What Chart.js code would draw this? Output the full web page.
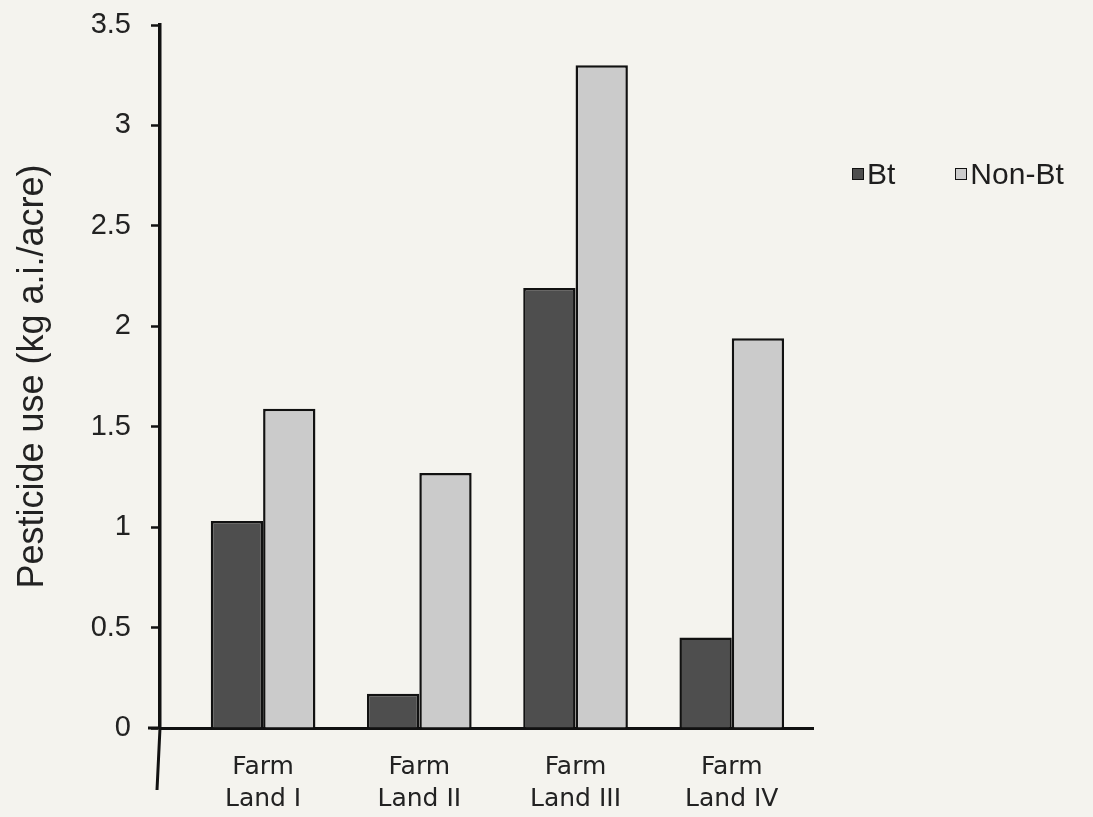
<!DOCTYPE html>
<html>
<head>
<meta charset="utf-8">
<script src="https://cdn.jsdelivr.net/npm/chart.js@4/dist/chart.umd.min.js"></script>
<style>
  html, body { margin: 0; padding: 0; background: #f4f3ee; }
  #wrap { position: relative; width: 1093px; height: 817px; overflow: hidden; }
  #legend { position: absolute; left: 852px; top: 157px; width: 260px; display: flex; white-space: nowrap; font-family: "Liberation Sans", Arial, sans-serif; font-size: 30px; color: #1e1e1e; }
  #legend .item { display: flex; align-items: center; margin-right: 60px; white-space: nowrap; }
  #legend .item:last-child { margin-right: 0; }
  #legend .box { width: 10px; height: 10px; border: 1.5px solid #111; margin-right: 3px; flex: none; }
</style>
</head>
<body>
<div id="wrap">
  <canvas id="c" width="1093" height="817"></canvas>
  <div id="legend"></div>
</div>
<script>
const categories = [["Farm", "Land I"], ["Farm", "Land II"], ["Farm", "Land III"], ["Farm", "Land IV"]];
const seriesNames = ["Bt", "Non-Bt"];
const btValues = [1.03, 0.17, 2.19, 0.45];
const nonBtValues = [1.59, 1.27, 3.30, 1.94];
const yTickValues = [0, 0.5, 1, 1.5, 2, 2.5, 3, 3.5];
const yTickLabels = ["0", "0.5", "1", "1.5", "2", "2.5", "3", "3.5"];
const yTitle = "Pesticide use (kg a.i./acre)";
const colors = ["#4e4e4e", "#cbcbcb"];

const toPoints = vals => vals.map((v, i) => ({ x: i + 1, y: v }));

const axisExtend = {
  id: 'axisExtend',
  afterDraw(chart) {
    const { ctx, chartArea } = chart;
    ctx.save();
    ctx.strokeStyle = '#111';
    ctx.lineWidth = 3;
    ctx.beginPath();
    ctx.moveTo(chartArea.left, chartArea.bottom);
    ctx.lineTo(chartArea.left - 3, chartArea.bottom + 62);
    ctx.moveTo(chartArea.left - 12, chartArea.bottom);
    ctx.lineTo(chartArea.left, chartArea.bottom);
    ctx.stroke();
    ctx.restore();
  }
};

const chart = new Chart(document.getElementById('c'), {
  type: 'bar',
  data: {
    datasets: [
      { label: seriesNames[0], data: toPoints(btValues), backgroundColor: colors[0], borderColor: '#111', borderWidth: 2.5, barPercentage: 1.0, categoryPercentage: 0.67 },
      { label: seriesNames[1], data: toPoints(nonBtValues), backgroundColor: colors[1], borderColor: '#111', borderWidth: 2.5, barPercentage: 1.0, categoryPercentage: 0.67 }
    ]
  },
  plugins: [axisExtend],
  options: {
    responsive: false,
    animation: false,
    layout: { padding: { top: 25, right: 280, bottom: 0, left: 0 } },
    plugins: { legend: { display: false }, tooltip: { enabled: false } },
    scales: {
      x: {
        type: 'linear',
        min: 0.34,
        max: 4.52,
        offset: false,
        grid: { display: false, drawTicks: false },
        border: { display: true, color: '#111', width: 3 },
        afterBuildTicks(scale) { scale.ticks = categories.map((_, i) => ({ value: i + 1 })); },
        afterFit(scale) { scale.height = 89; scale.paddingLeft = 0; scale.paddingRight = 0; },
        ticks: {
          autoSkip: false,
          maxRotation: 0,
          padding: 23,
          color: '#222',
          font: { family: '"DejaVu Sans", Verdana, sans-serif', size: 25, lineHeight: 1.3 },
          callback: (v) => categories[Math.round(v) - 1]
        }
      },
      y: {
        min: 0,
        max: 3.5,
        afterBuildTicks(scale) { scale.ticks = yTickValues.map(v => ({ value: v })); },
        afterFit(scale) { scale.width = 160; scale.paddingTop = 0; scale.paddingBottom = 0; },
        grid: { drawOnChartArea: false, drawTicks: true, tickLength: 9, tickColor: '#111', tickWidth: 2.5 },
        border: { display: true, color: '#111', width: 3.5 },
        ticks: {
          padding: 20,
          color: '#222',
          font: { family: '"Liberation Sans", Arial, sans-serif', size: 29 },
          callback: (v) => yTickLabels[yTickValues.indexOf(v)]
        },
        title: {
          display: true,
          text: yTitle,
          color: '#222',
          font: { family: '"Liberation Sans", Arial, sans-serif', size: 36 },
          padding: { top: 11, bottom: 0 }
        }
      }
    }
  }
});

const legendEl = document.getElementById('legend');
chart.data.datasets.forEach(ds => {
  const item = document.createElement('div');
  item.className = 'item';
  const box = document.createElement('span');
  box.className = 'box';
  box.style.background = ds.backgroundColor;
  const txt = document.createElement('span');
  txt.textContent = ds.label;
  item.appendChild(box);
  item.appendChild(txt);
  legendEl.appendChild(item);
});
</script>
</body>
</html>
